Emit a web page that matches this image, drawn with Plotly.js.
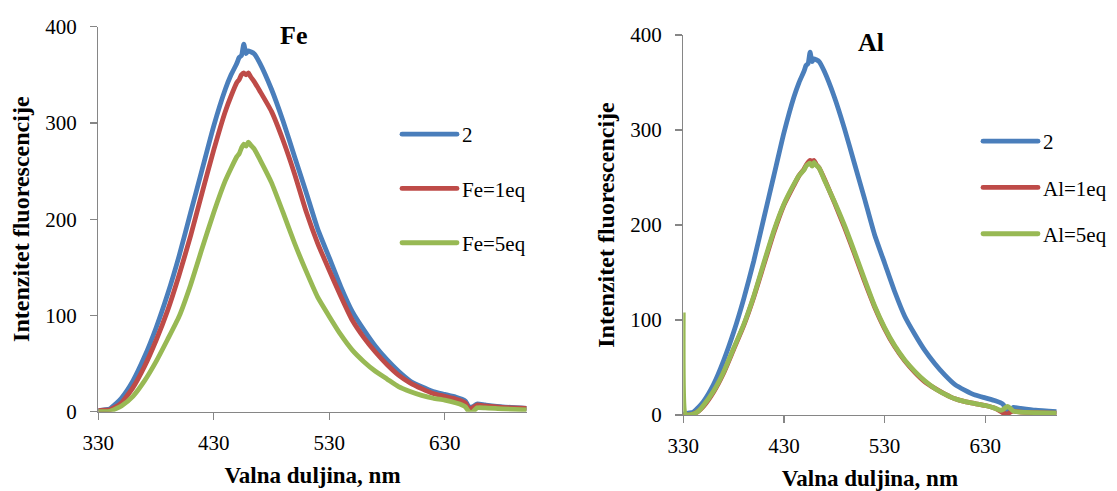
<!DOCTYPE html>
<html>
<head>
<meta charset="utf-8">
<script src="https://cdn.plot.ly/plotly-3.0.1.min.js"></script>
<style>
html,body{margin:0;padding:0;background:#fff;}
#chart{width:1117px;height:491px;}
#chart svg text{font-family:'Liberation Serif','Times New Roman',serif !important;}
</style>
</head>
<body>
<div id="chart"></div>
<script>
// Wavelength grids (nm)
const wl = [330,335,340,345,350,360,370,380,390,400,410,420,430,440,445,450,452,454,456,458,460,462,465,470,480,490,500,510,520,530,540,550,560,570,580,590,600,610,620,630,640,645,648,651,654,658,665,680,701];
const wlAl = [330,332,335,340,345,350,360,370,380,390,400,410,420,430,440,445,450,452,454,456,458,460,462,465,470,480,490,500,510,520,530,540,550,560,570,580,590,600,610,620,630,640,645,648,652,655,658,665,680,701];

// Compound 2 (same spectrum in both panels)
const s2 = [1,2,3,8,14,32,57,87,122,162,207,252,297,335,350,362,368,370,382,372,375,374,372,362,335,302,265,228,190,160,130,104,85,68,54,42,32,26,21,18,15,13,11,5,5,8,7,5,3.5];
// Fe panel
const fe1 = [1,1.5,2,5,9,25,47,74,105,142,183,228,272,312,328,342,345,350,352,350,352,348,343,333,312,282,247,208,175,147,120,95,77,62,49,38,30,24,19,16,13,11,9,3,4,7,6,4.5,3.5];
const fe5 = [0,0,0.5,3,6,16,32,52,75,99,132,170,207,240,253,265,268,274,278,276,280,277,273,262,238,207,175,146,119,99,80,64,52,42,34,26,21,17,14,12,9,7,5,0,-0.5,4,4,3,2];
// Al panel
const al1 = [2,0,0,1,4,9,24,44,69,94,124,158,192,221,242,252,259,263,266,268,267,268,264,260,249,224,198,170,141,114,91,72,57,45,35,28,22,17,14,12,10,7,4,2,1,3,4,3,2.5,2];
const al5 = [108,1,0,1,4,10,25,45,70,95,125,160,194,222,243,252,258,262,264,265,262,266,263,260,248,225,200,172,143,115,92,73,58,46,36,28,22,17,14,12,10,7,5,6,9,7,4,3,2.5,2];

const names = ['2','Fe=1eq','Fe=5eq','2','Al=1eq','Al=5eq'];
const xTicks = [330,430,530,630];
const colors = ['#4A7EBB','#BE4B48','#98B954'];

const FONT = 'Liberation Serif';
const lw = 4.8;

function tr(x, y, name, color, xa, ya, leg, grp){
  return {x:x, y:y, name:name, type:'scatter', mode:'lines',
    line:{color:color, width:lw, shape:'spline', smoothing:0.5},
    xaxis:xa, yaxis:ya, legend:leg, legendgroup:grp, hoverinfo:'skip'};
}

const data = [
  tr(wl, s2, names[0], colors[0], 'x', 'y', 'legend', 'a'),
  tr(wl, fe1, names[1], colors[1], 'x', 'y', 'legend', 'b'),
  tr(wl, fe5, names[2], colors[2], 'x', 'y', 'legend', 'c'),
  tr(wl, s2, names[3], colors[0], 'x2', 'y2', 'legend2', 'd'),
  tr(wlAl, al1, names[4], colors[1], 'x2', 'y2', 'legend2', 'e'),
  tr(wlAl, al5, names[5], colors[2], 'x2', 'y2', 'legend2', 'f')
];

const axCommon = {showline:true, linecolor:'#868686', linewidth:1.3, ticks:'outside', ticklen:7,
  tickcolor:'#868686', tickwidth:1.3, showgrid:false, zeroline:false, automargin:false,
  tickfont:{family:FONT, size:21, color:'#000'}};

function xax(domain, anchor){
  return Object.assign({}, axCommon, {domain:domain, anchor:anchor, range:[330,701],
    tickmode:'array', tickvals:xTicks, ticktext:xTicks.map(String), ticklabelstandoff:5,
    title:{text:'Valna duljina, nm', font:{family:FONT, size:23, weight:'bold', color:'#000'}, standoff:12}});
}
function yax(domain, anchor){
  return Object.assign({}, axCommon, {domain:domain, anchor:anchor, range:[0,400], dtick:100, tick0:0,
    ticklabelstandoff:9,
    title:{text:'Intenzitet fluorescencije', font:{family:FONT, size:24, weight:'bold', color:'#000'}, standoff:9}});
}
const legCommon = {xanchor:'left', yanchor:'top', bgcolor:'rgba(0,0,0,0)', borderwidth:0,
  font:{family:FONT, size:21, color:'#000'}, itemwidth:55, traceorder:'grouped'};

const layout = {
  width:1117, height:491,
  margin:{l:0, r:0, t:0, b:0},
  paper_bgcolor:'#fff', plot_bgcolor:'#fff',
  showlegend:true,
  font:{family:FONT, color:'#000'},
  xaxis: xax([0.0880, 0.4715], 'y'),
  yaxis: yax([0.1615, 0.9456], 'x'),
  xaxis2: xax([0.6117, 0.9460], 'y2'),
  yaxis2: yax([0.1548, 0.9287], 'x2'),
  legend: Object.assign({}, legCommon, {x:397/1117, y:1-114/491, tracegroupgap:24}),
  legend2: Object.assign({}, legCommon, {x:978/1117, y:1-121/491, tracegroupgap:16}),
  annotations:[
    {text:'Fe', xref:'paper', yref:'paper', x:293/1117, y:1-35/491, showarrow:false,
     xanchor:'center', yanchor:'middle', font:{family:FONT, size:26, weight:'bold', color:'#000'}},
    {text:'Al', xref:'paper', yref:'paper', x:871/1117, y:1-43/491, showarrow:false,
     xanchor:'center', yanchor:'middle', font:{family:FONT, size:26, weight:'bold', color:'#000'}}
  ]
};

Plotly.newPlot('chart', data, layout, {staticPlot:true, displayModeBar:false}).then(function(gd){
  // lengthen legend line samples to match the reference's long swatches
  gd.querySelectorAll('.legendlines path').forEach(function(p){
    p.setAttribute('d', 'M5,0h55');
    p.style.strokeLinecap = 'round';
  });
});
</script>
</body>
</html>
